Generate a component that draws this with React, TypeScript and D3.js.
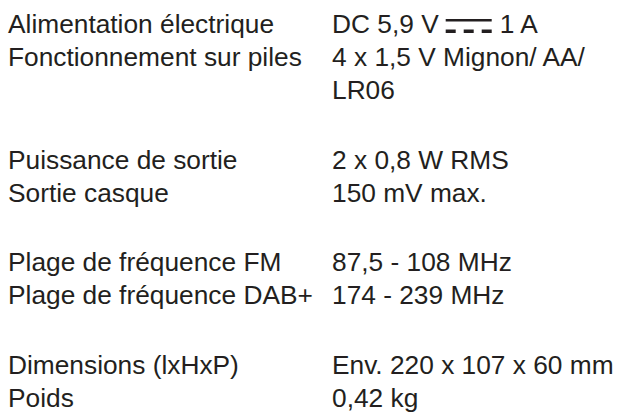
import React, { useEffect, useRef } from "react";
import * as d3 from "d3";

const LABELS = [
  "Alimentation électrique",
  "Fonctionnement sur piles",
  "Puissance de sortie",
  "Sortie casque",
  "Plage de fréquence FM",
  "Plage de fréquence DAB+",
  "Dimensions (lxHxP)",
  "Poids",
];

// "|DC|" marks the direct-current symbol
const VALUE_LINES: string[][] = [
  ["DC 5,9 V|DC|1 A"],
  ["4 x 1,5 V Mignon/ AA/", "LR06"],
  ["2 x 0,8 W RMS"],
  ["150 mV max."],
  ["87,5 - 108 MHz"],
  ["174 - 239 MHz"],
  ["Env. 220 x 107 x 60 mm"],
  ["0,42 kg"],
];

const GROUPS = [0, 0, 1, 1, 2, 2, 3, 3];

const W = 619;
const H = 415;
const COLOR = "#231f20";
const FONT = "'Liberation Sans', Arial, sans-serif";
const FONT_SIZE = 26.3;
const LINE_H = 33;
const FIRST_BASELINE = 33;
const GROUP_GAP = 36.7;
const COL1_X = 8;
const COL2_X = 332;

export default function App() {
  const ref = useRef<SVGSVGElement | null>(null);

  useEffect(() => {
    const svg = d3.select(ref.current);
    svg.selectAll("*").remove();

    const lineStart: number[] = [];
    let acc = 0;
    VALUE_LINES.forEach((lines) => {
      lineStart.push(acc);
      acc += lines.length;
    });
    const y = d3
      .scaleLinear()
      .domain([0, 1])
      .range([FIRST_BASELINE, FIRST_BASELINE + LINE_H]);
    const baseline = (row: number, sub: number) =>
      y(lineStart[row] + sub) + GROUPS[row] * GROUP_GAP;

    const g = svg
      .append("g")
      .attr("font-family", FONT)
      .attr("font-size", FONT_SIZE)
      .attr("fill", COLOR);

    LABELS.forEach((label, i) => {
      g.append("text").attr("x", COL1_X).attr("y", baseline(i, 0)).text(label);

      VALUE_LINES[i].forEach((line, j) => {
        const by = baseline(i, j);
        if (line.includes("|DC|")) {
          const [before, after] = line.split("|DC|");
          const t1 = g.append("text").attr("x", COL2_X).attr("y", by).text(before);
          const w1 = (t1.node() as SVGTextElement).getComputedTextLength();
          const sx = COL2_X + w1 + 7;
          const symW = 46;
          g.append("rect")
            .attr("x", sx)
            .attr("y", by - 14)
            .attr("width", symW)
            .attr("height", 2.5);
          const dashW = 10;
          const nd = 3;
          const gap = (symW - nd * dashW) / (nd - 1);
          d3.range(nd).forEach((k) => {
            g.append("rect")
              .attr("x", sx + k * (dashW + gap))
              .attr("y", by - 3.5)
              .attr("width", dashW)
              .attr("height", 3.5);
          });
          g.append("text")
            .attr("x", sx + symW + 8)
            .attr("y", by)
            .text(after);
        } else {
          g.append("text").attr("x", COL2_X).attr("y", by).text(line);
        }
      });
    });
  }, []);

  return (
    <svg
      ref={ref}
      width={W}
      height={H}
      style={{ position: "absolute", left: 0, top: 0, background: "#fff" }}
    />
  );
}
